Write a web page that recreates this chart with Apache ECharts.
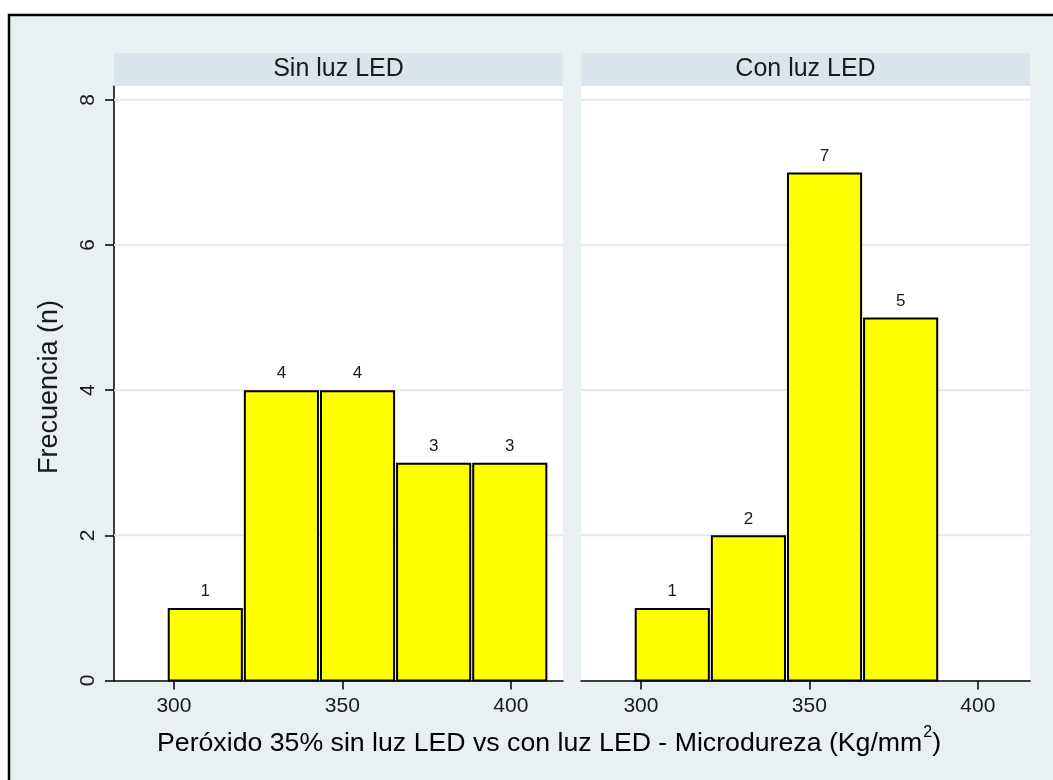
<!DOCTYPE html>
<html>
<head>
<meta charset="utf-8">
<script src="https://cdn.jsdelivr.net/npm/echarts@6/dist/echarts.min.js"></script>
<style>
  html, body { margin: 0; padding: 0; background: #ffffff; }
  #chart { width: 1053px; height: 780px; }
</style>
</head>
<body>
<div id="chart"></div>
<script>
// Histogram bins (Kg/mm²) shared by both panels
const binEdges = [298, 320.6, 343.2, 365.8, 388.4, 411.0];
// Frequencies per bin
const countsSinLuz = [1, 4, 4, 3, 3];
const countsConLuz = [1, 2, 7, 5];
// Panel headers
const panelTitles = ['Sin luz LED', 'Con luz LED'];
// Axis ticks
const xTicks = [300, 350, 400];
const yTicks = [0, 2, 4, 6, 8];
const yGridLines = [2, 4, 6, 8];

const FONT = '"Liberation Sans", Arial, Helvetica, sans-serif';
const BG = '#e8f0f2';
const STRIP = '#d9e5eb';
const GRIDLINE = '#e2ebee';
const TEXT = '#1a1a1a';

const X_MIN = 282.2, X_MAX = 415.5;
const Y_MIN = 0, Y_MAX = 8.19;

const panels = [
  { left: 114, width: 449 },
  { left: 581, width: 449 }
];
const gridTop = 86, gridBottom = 99.5;

function binsToRows(counts) {
  return counts.map((c, i) => [binEdges[i], binEdges[i + 1], c]);
}

// Bar with its outline kept inside the bin, plus the count above it
function renderBar(params, api) {
  const x0 = api.value(0), x1 = api.value(1), n = api.value(2);
  const p0 = api.coord([x0, 0]);
  const p1 = api.coord([x1, n]);
  const top = p1[1] + 1;
  return {
    type: 'group',
    children: [
      {
        type: 'rect',
        shape: { x: p0[0] + 1.5, y: top, width: p1[0] - p0[0] - 3, height: p0[1] - top },
        style: { fill: '#ffff00', stroke: '#000000', lineWidth: 2 }
      },
      {
        type: 'text',
        style: {
          text: String(n),
          x: (p0[0] + p1[0]) / 2,
          y: top - 17.5,
          align: 'center',
          verticalAlign: 'middle',
          fill: TEXT,
          font: '17px ' + FONT
        }
      }
    ]
  };
}

function renderGridLine(params, api) {
  const v = api.value(0);
  const a = api.coord([X_MIN, v]);
  const b = api.coord([X_MAX, v]);
  return {
    type: 'line',
    shape: { x1: a[0], y1: a[1], x2: b[0], y2: b[1] },
    style: { stroke: GRIDLINE, lineWidth: 2 }
  };
}

const grids = panels.map(p => ({
  left: p.left, width: p.width, top: gridTop, bottom: gridBottom,
  show: true, backgroundColor: '#ffffff', borderWidth: 0
}));

const xAxes = panels.map((p, i) => ({
  type: 'value', gridIndex: i, min: X_MIN, max: X_MAX,
  axisLine: { show: true, lineStyle: { color: '#000', width: 1.5 } },
  axisTick: { show: true, length: 9, customValues: xTicks, lineStyle: { color: '#000', width: 1.5 } },
  axisLabel: { customValues: xTicks, fontSize: 21, fontFamily: FONT, color: TEXT, margin: 15 },
  splitLine: { show: false }
}));

const yAxes = panels.map((p, i) => ({
  type: 'value', gridIndex: i, min: Y_MIN, max: Y_MAX,
  axisLine: { show: i === 0, onZero: false, lineStyle: { color: '#000', width: 1.5 } },
  axisTick: { show: i === 0, length: 9, customValues: yTicks, lineStyle: { color: '#000', width: 1.5 } },
  axisLabel: { show: i === 0, customValues: yTicks, rotate: 90, fontSize: 21, fontFamily: FONT, color: TEXT, margin: 15 },
  splitLine: { show: false }
}));

const series = [];
[countsSinLuz, countsConLuz].forEach((counts, i) => {
  series.push({
    type: 'custom', xAxisIndex: i, yAxisIndex: i, z: 1, silent: true,
    renderItem: renderGridLine,
    data: yGridLines.map(v => [v])
  });
  series.push({
    type: 'custom', xAxisIndex: i, yAxisIndex: i, z: 3, silent: true,
    renderItem: renderBar,
    encode: { x: [0, 1], y: 2 },
    data: binsToRows(counts)
  });
});

const graphics = [
  {
    type: 'rect', z: -10, silent: true,
    shape: { x: 9, y: 15, width: 1100, height: 820 },
    style: { fill: BG, stroke: '#000000', lineWidth: 2.5 }
  }
];
panels.forEach((p, i) => {
  graphics.push({
    type: 'rect', z: 1, silent: true,
    shape: { x: p.left, y: 53, width: p.width, height: 33 },
    style: { fill: STRIP }
  });
  graphics.push({
    type: 'text', z: 2, silent: true,
    x: p.left + p.width / 2, y: 69,
    style: { text: panelTitles[i], align: 'center', verticalAlign: 'middle', fill: TEXT, font: '25px ' + FONT }
  });
});
graphics.push({
  type: 'text', z: 2, silent: true,
  x: 157, y: 744,
  style: {
    text: '{a|Peróxido 35% sin luz LED vs con luz LED - Microdureza (Kg/mm}{s|2}{a|)}',
    align: 'left', verticalAlign: 'middle',
    rich: {
      a: { fontSize: 26.7, lineHeight: 38, fontFamily: FONT, color: TEXT },
      s: { fontSize: 16, lineHeight: 16, fontFamily: FONT, color: TEXT, verticalAlign: 'top', padding: [0, 0, 0, 1] }
    }
  }
});
graphics.push({
  type: 'text', z: 2, silent: true,
  x: 50, y: 387, rotation: Math.PI / 2,
  style: { text: 'Frecuencia (n)', align: 'center', verticalAlign: 'middle', fill: TEXT, font: '27px ' + FONT }
});

const chart = echarts.init(document.getElementById('chart'), null, { renderer: 'canvas' });
chart.setOption({
  animation: false,
  backgroundColor: '#ffffff',
  grid: grids,
  xAxis: xAxes,
  yAxis: yAxes,
  series: series,
  graphic: graphics
});
</script>
</body>
</html>
